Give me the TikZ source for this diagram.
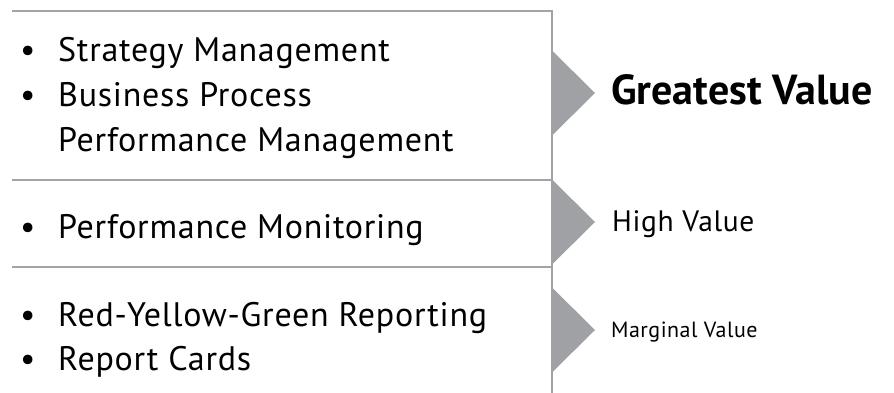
\documentclass[tikz,border=0pt]{standalone}
\usepackage{fontspec}
\setmainfont{PT Sans}[LetterSpace=2.2]
\newfontfamily\headfont{PT Sans}
\definecolor{rulegray}{RGB}{163,163,166}
\definecolor{wedgegray}{RGB}{160,161,165}

\begin{document}
\begin{tikzpicture}[
    x=1pt, y=-1pt,
    rule/.style={draw=rulegray, line width=2pt},
    wedge/.style={fill=wedgegray},
    item text/.style={anchor=base west, inner sep=0pt, font=\fontsize{34}{40}\selectfont},
    value text/.style={anchor=base west, inner sep=0pt}
  ]
    \useasboundingbox (0,0) rectangle (894,393);

    % 1. Coordinates
    \coordinate (TL) at (12,11);
    \coordinate (TR) at (552,11);
    \coordinate (BR) at (552,393);
    \coordinate (S1L) at (12,180);
    \coordinate (S1R) at (552,180);
    \coordinate (S2L) at (12,267);
    \coordinate (S2R) at (552,267);

    % 2. Frame and separators
    \draw[rule] (TL) -- (TR) -- (BR);
    \draw[rule] (S1L) -- (S1R);
    \draw[rule] (S2L) -- (S2R);

    % 3. Wedges on the right edge
    \foreach \mid/\name in {93/greatest, 222/high, 330/marginal} {
        \fill[wedge] (552,\mid-42.5) -- (595,\mid) coordinate (\name tip) -- (552,\mid+42.5) -- cycle;
    }

    % 4. Lists
    \node[item text] (strategy) at (20,62) {\makebox[38pt][l]{•}Strategy Management};
    \node[item text] (business) at (20,107) {\makebox[38pt][l]{•}Business Process};
    \node[item text] (perfmgmt) at (58,152) {Performance Management};
    \node[item text] (monitor) at (20,238) {\makebox[38pt][l]{•}Performance Monitoring};
    \node[item text] (ryg) at (20,326) {\makebox[38pt][l]{•}Red-Yellow-Green Reporting};
    \node[item text] (cards) at (20,370) {\makebox[38pt][l]{•}Report Cards};

    % 5. Values
    \node[value text, font=\headfont\bfseries\fontsize{42}{48}\selectfont] (greatest) at (611,105) {Greatest Value};
    \node[value text, font=\fontsize{29.5}{34}\selectfont] (high) at (612,231) {High Value};
    \node[value text, font=\fontsize{22}{26}\selectfont] (marginal) at (611,337) {Marginal Value};

  \end{tikzpicture}
\end{document}
